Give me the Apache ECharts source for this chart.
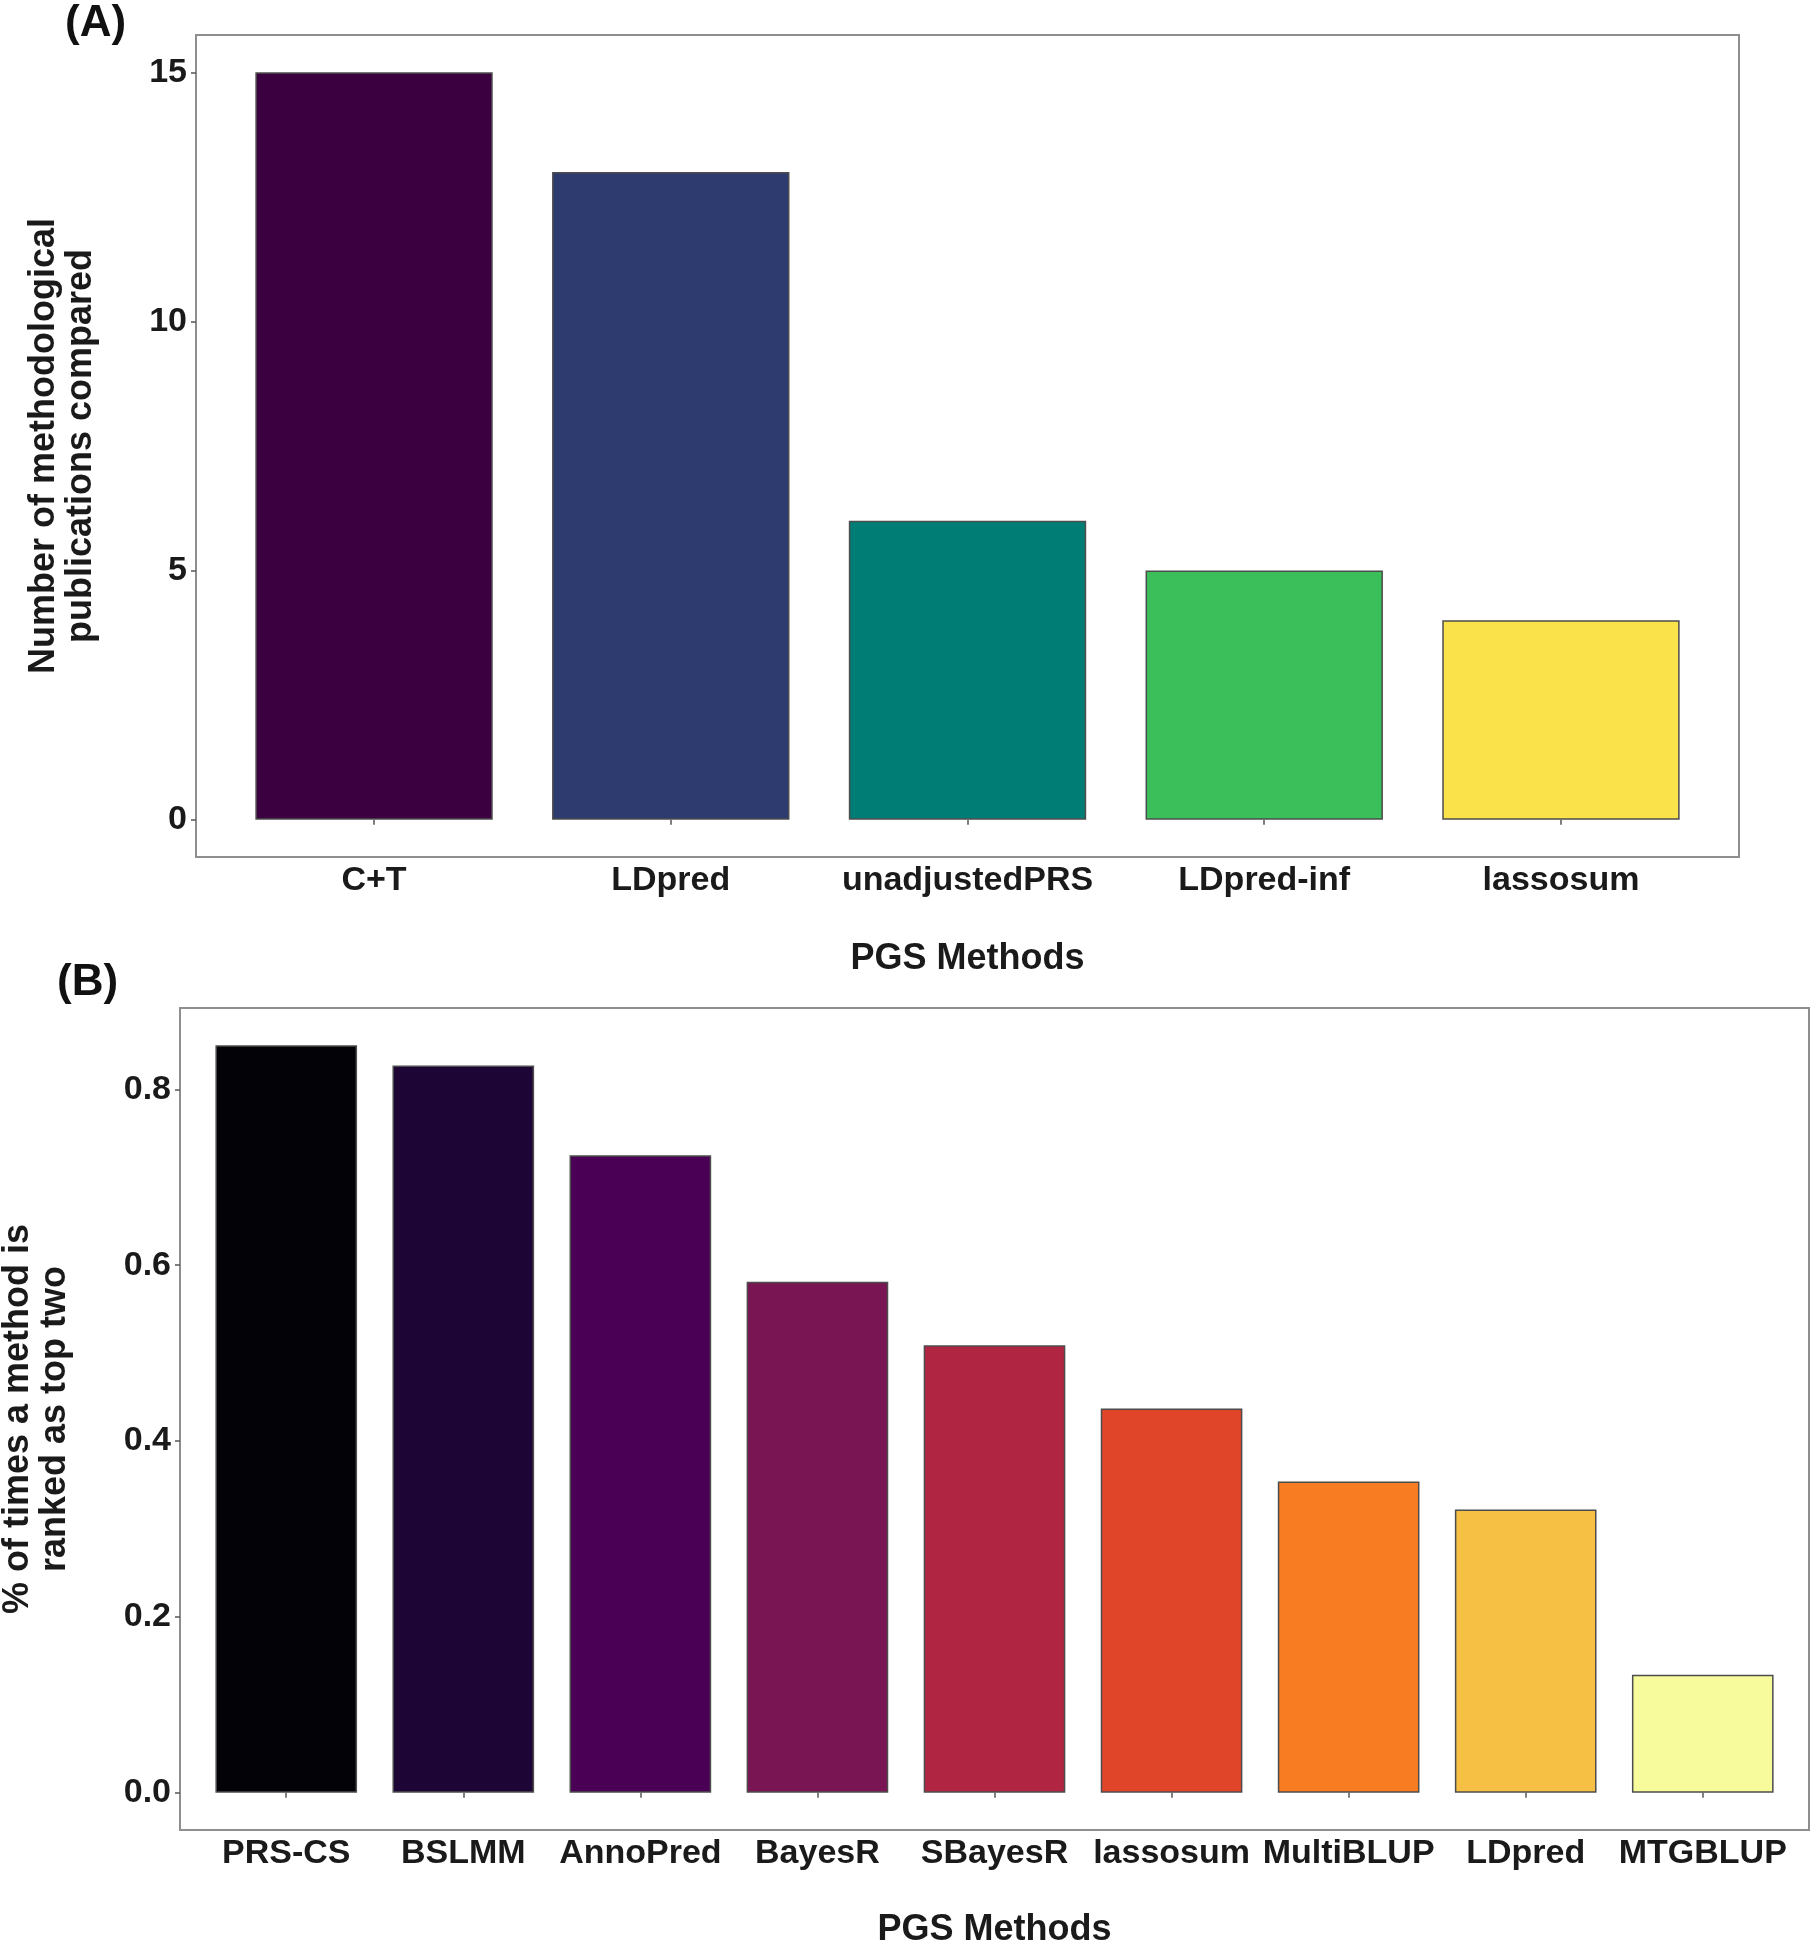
<!DOCTYPE html>
<html>
<head>
<meta charset="utf-8">
<script src="https://cdn.jsdelivr.net/npm/echarts@6/dist/echarts.min.js"></script>
<style>html,body{margin:0;padding:0;background:#fff}#c{width:1817px;height:1950px}</style>
</head>
<body>
<div id="c"></div>
<script>
// Panel A data
const catsA = ['C+T', 'LDpred', 'unadjustedPRS', 'LDpred-inf', 'lassosum'];
const valsA = [15, 13, 6, 5, 4];
const colorsA = ['#3b003f', '#2e3b6e', '#007e75', '#3bbf5b', '#f9e24a'];
const yTicksA = [0, 5, 10, 15];

// Panel B data
const catsB = ['PRS-CS', 'BSLMM', 'AnnoPred', 'BayesR', 'SBayesR', 'lassosum', 'MultiBLUP', 'LDpred', 'MTGBLUP'];
const valsB = [0.850, 0.827, 0.725, 0.581, 0.509, 0.437, 0.354, 0.322, 0.134];
const colorsB = ['#030207', '#1d0535', '#4a0054', '#7a1553', '#b02542', '#e0452a', '#f87d22', '#f5c044', '#f8fb9b'];
const yTicksB = [0, 0.2, 0.4, 0.6, 0.8];

const FONT = 'Liberation Sans';
const txt = { fontFamily: FONT, fontWeight: 'bold', color: '#1a1a1a' };

function idx(n) { const a = []; for (let i = 1; i <= n; i++) a.push(i); return a; }

function xAxisFor(cats, grid, gap) {
  const pos = idx(cats.length);
  return {
    type: 'value', gridIndex: grid,
    min: 1 - 0.6, max: cats.length + 0.6,
    axisLine: { show: false },
    splitLine: { show: false },
    axisTick: { show: true, customValues: pos, length: 5, lineStyle: { color: '#555', width: 1.5 } },
    axisLabel: { customValues: pos, formatter: v => cats[Math.round(v) - 1] || '', fontSize: 34, margin: 7, ...txt },
    name: 'PGS Methods', nameLocation: 'middle', nameGap: gap,
    nameTextStyle: { fontSize: 36, ...txt }
  };
}
function yAxisFor(ticks, maxV, grid, name, gap, fmt) {
  const pad = maxV * 0.05;
  return {
    type: 'value', gridIndex: grid,
    min: -pad, max: maxV + pad,
    axisLine: { show: false },
    splitLine: { show: false },
    axisTick: { show: true, customValues: ticks, length: 5, lineStyle: { color: '#555', width: 1.5 } },
    axisLabel: { customValues: ticks, formatter: fmt, fontSize: 34, margin: 9, ...txt },
    name: name, nameLocation: 'middle', nameGap: gap, nameRotate: 90,
    nameTextStyle: { fontSize: 36, lineHeight: 37, align: 'center', ...txt }
  };
}

const chart = echarts.init(document.getElementById('c'), null, { renderer: 'canvas' });
chart.setOption({
  backgroundColor: '#ffffff',
  animation: false,
  grid: [
    { left: 196, top: 35, width: 1543, height: 822, show: true, borderColor: '#8e8e8e', borderWidth: 2, backgroundColor: '#fff', containLabel: false, outerBoundsMode: 'none' },
    { left: 180, top: 1008, width: 1629, height: 822, show: true, borderColor: '#8e8e8e', borderWidth: 2, backgroundColor: '#fff', containLabel: false, outerBoundsMode: 'none' }
  ],
  xAxis: [xAxisFor(catsA, 0, 84), xAxisFor(catsB, 1, 82)],
  yAxis: [
    yAxisFor(yTicksA, Math.max(...valsA), 0, 'Number of methodological\npublications compared', 96, v => String(v)),
    yAxisFor(yTicksB, Math.max(...valsB), 1, '% of times a method is\nranked as top two', 106, v => v.toFixed(1))
  ],
  graphic: [
    { type: 'text', left: 65, top: 2, style: { text: '(A)', font: 'bold 44px "Liberation Sans"', fill: '#111' } },
    { type: 'text', left: 57, top: 961, style: { text: '(B)', font: 'bold 44px "Liberation Sans"', fill: '#111' } }
  ],
  series: [
    {
      type: 'bar', xAxisIndex: 0, yAxisIndex: 0, barWidth: '80%',
      data: valsA.map((v, i) => ({ value: [i + 1, v], itemStyle: { color: colorsA[i] } })),
      itemStyle: { borderColor: '#4d4d4d', borderWidth: 1.5 }
    },
    {
      type: 'bar', xAxisIndex: 1, yAxisIndex: 1, barWidth: '80%',
      data: valsB.map((v, i) => ({ value: [i + 1, v], itemStyle: { color: colorsB[i] } })),
      itemStyle: { borderColor: '#4d4d4d', borderWidth: 1.5 }
    }
  ]
});
</script>
</body>
</html>
